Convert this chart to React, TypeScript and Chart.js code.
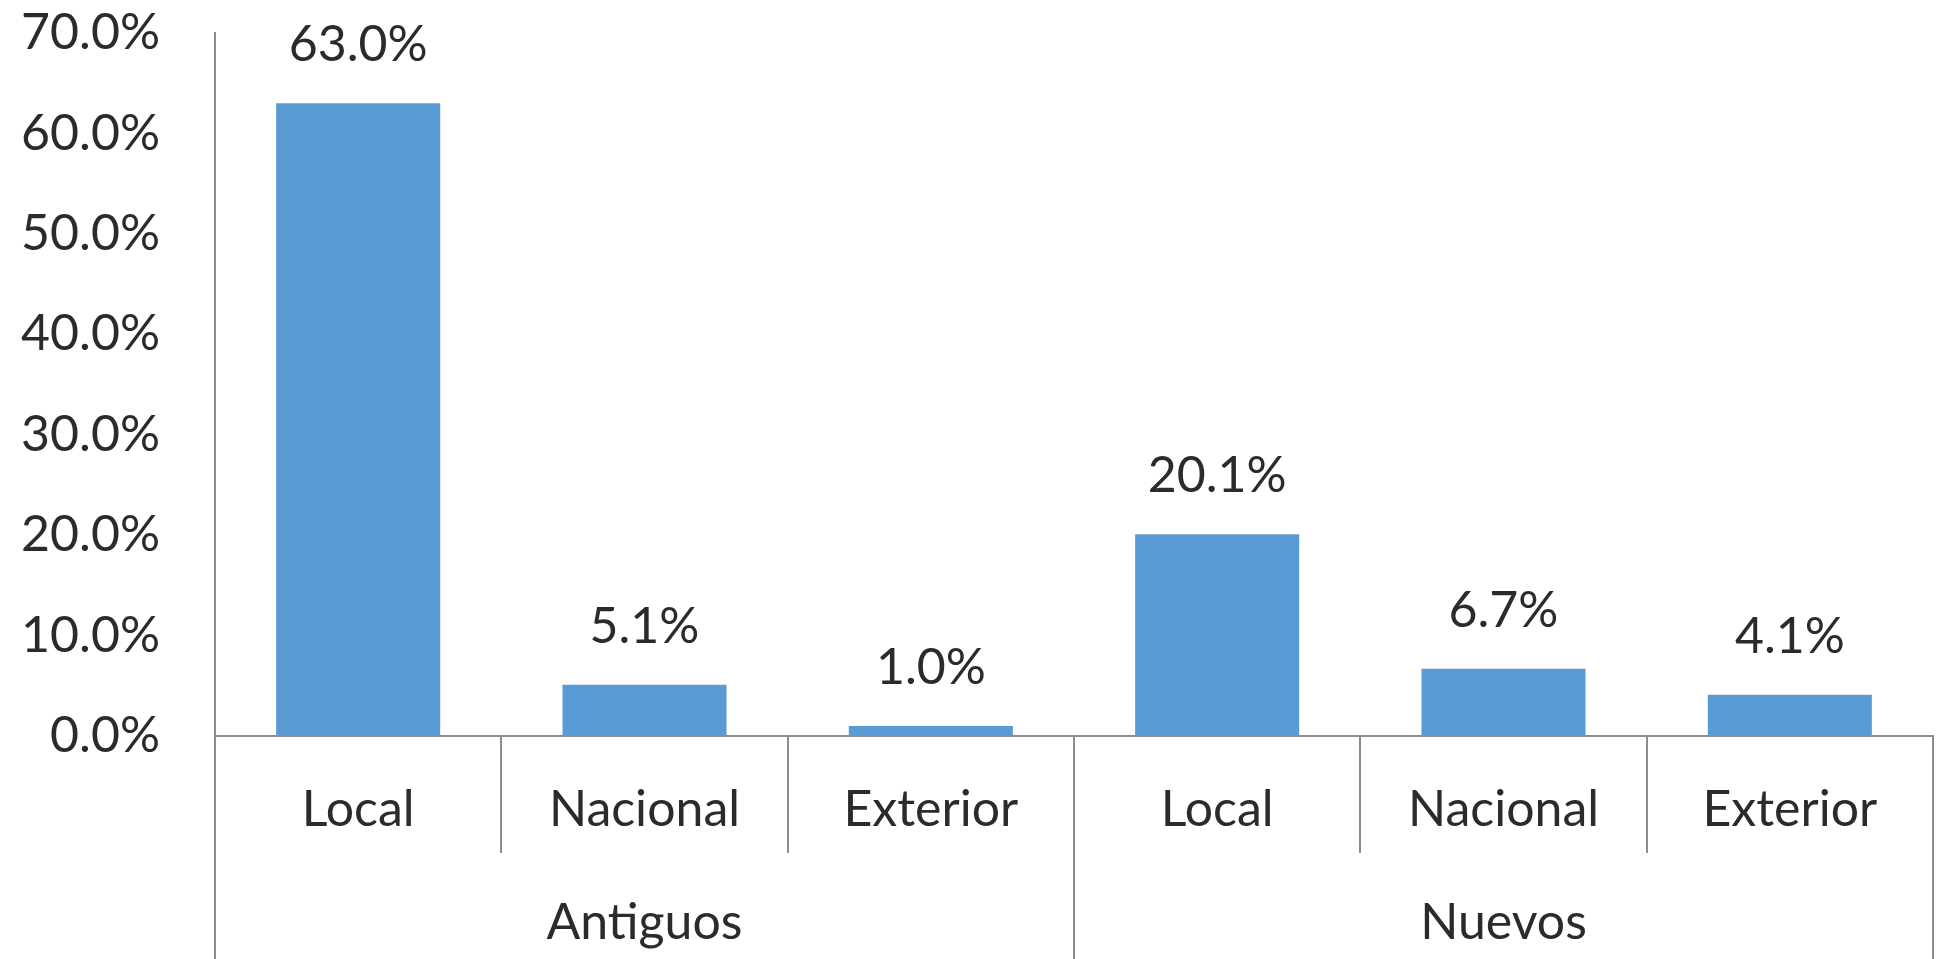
import React, { useEffect, useRef } from "react";
import { Chart, registerables } from "chart.js";

Chart.register(...registerables);

const subCategories = ["Local", "Nacional", "Exterior", "Local", "Nacional", "Exterior"];
const groupLabels = ["Antiguos", "Nuevos"];
const values = [63.0, 5.1, 1.0, 20.1, 6.7, 4.1];
const yTicks = [0, 10, 20, 30, 40, 50, 60, 70];

const FONT = "Lato, 'Open Sans', sans-serif";
const TEXT = "#2b2b2b";
const LINE = "#8c8c8c";

const valueLabels = {
  id: "valueLabels",
  afterDatasetsDraw(chart: any) {
    const ctx = chart.ctx;
    const meta = chart.getDatasetMeta(0);
    ctx.save();
    ctx.font = `50px ${FONT}`;
    ctx.fillStyle = TEXT;
    ctx.textAlign = "center";
    ctx.textBaseline = "middle";
    meta.data.forEach((bar: any, i: number) => {
      ctx.fillText(values[i].toFixed(1) + "%", bar.x, bar.y - 58);
    });
    ctx.restore();
  },
};

export default function App() {
  const ref = useRef<HTMLCanvasElement | null>(null);
  useEffect(() => {
    if (!ref.current) return;
    const chart = new Chart(ref.current, {
      type: "bar",
      data: {
        labels: subCategories,
        datasets: [
          {
            data: values,
            backgroundColor: "#5B9BD5",
            borderWidth: 0,
            barPercentage: 0.573,
            categoryPercentage: 1,
          },
        ],
      },
      plugins: [valueLabels],
      options: {
        animation: false,
        responsive: false,
        maintainAspectRatio: false,
        layout: { padding: { top: 0, right: 5, left: 0, bottom: 0 } },
        plugins: {
          legend: { display: false },
          tooltip: { enabled: false },
          title: { display: false },
        },
        scales: {
          y: {
            min: 0,
            max: 70,
            afterBuildTicks(scale: any) {
              scale.ticks = yTicks.map((v) => ({ value: v }));
            },
            afterFit(scale: any) {
              scale.width = 215;
              scale.paddingTop = 33;
              scale.paddingBottom = 0;
            },
            ticks: {
              font: { family: FONT, size: 50 },
              color: TEXT,
              padding: 55,
              callback: (v: any) => Number(v).toFixed(1) + "%",
            },
            grid: { display: false, drawTicks: false },
            border: { display: true, color: LINE, width: 2 },
          },
          x: {
            position: "bottom",
            afterFit(scale: any) {
              scale.height = 117;
            },
            ticks: {
              font: { family: FONT, size: 50 },
              color: TEXT,
              padding: -73,
              maxRotation: 0,
              autoSkip: false,
            },
            grid: {
              display: true,
              offset: true,
              drawOnChartArea: false,
              drawTicks: true,
              tickLength: 117,
              color: LINE,
              lineWidth: 2,
            },
            border: { display: true, color: LINE, width: 2 },
          },
          x2: {
            type: "category",
            position: "bottom",
            labels: groupLabels,
            offset: true,
            afterFit(scale: any) {
              scale.height = 106;
            },
            ticks: {
              font: { family: FONT, size: 50 },
              color: TEXT,
              padding: -66,
              maxRotation: 0,
              autoSkip: false,
            },
            grid: {
              display: true,
              offset: true,
              drawOnChartArea: false,
              drawTicks: true,
              tickLength: 106,
              color: LINE,
              lineWidth: 2,
            },
            border: { display: false },
          },
        },
      } as any,
    });
    return () => chart.destroy();
  }, []);
  return (
    <div style={{ position: "fixed", left: 0, top: 0, width: 1938, height: 959, background: "#fff" }}>
      <canvas ref={ref} width={1938} height={959} style={{ width: 1938, height: 959, display: "block" }} />
    </div>
  );
}
